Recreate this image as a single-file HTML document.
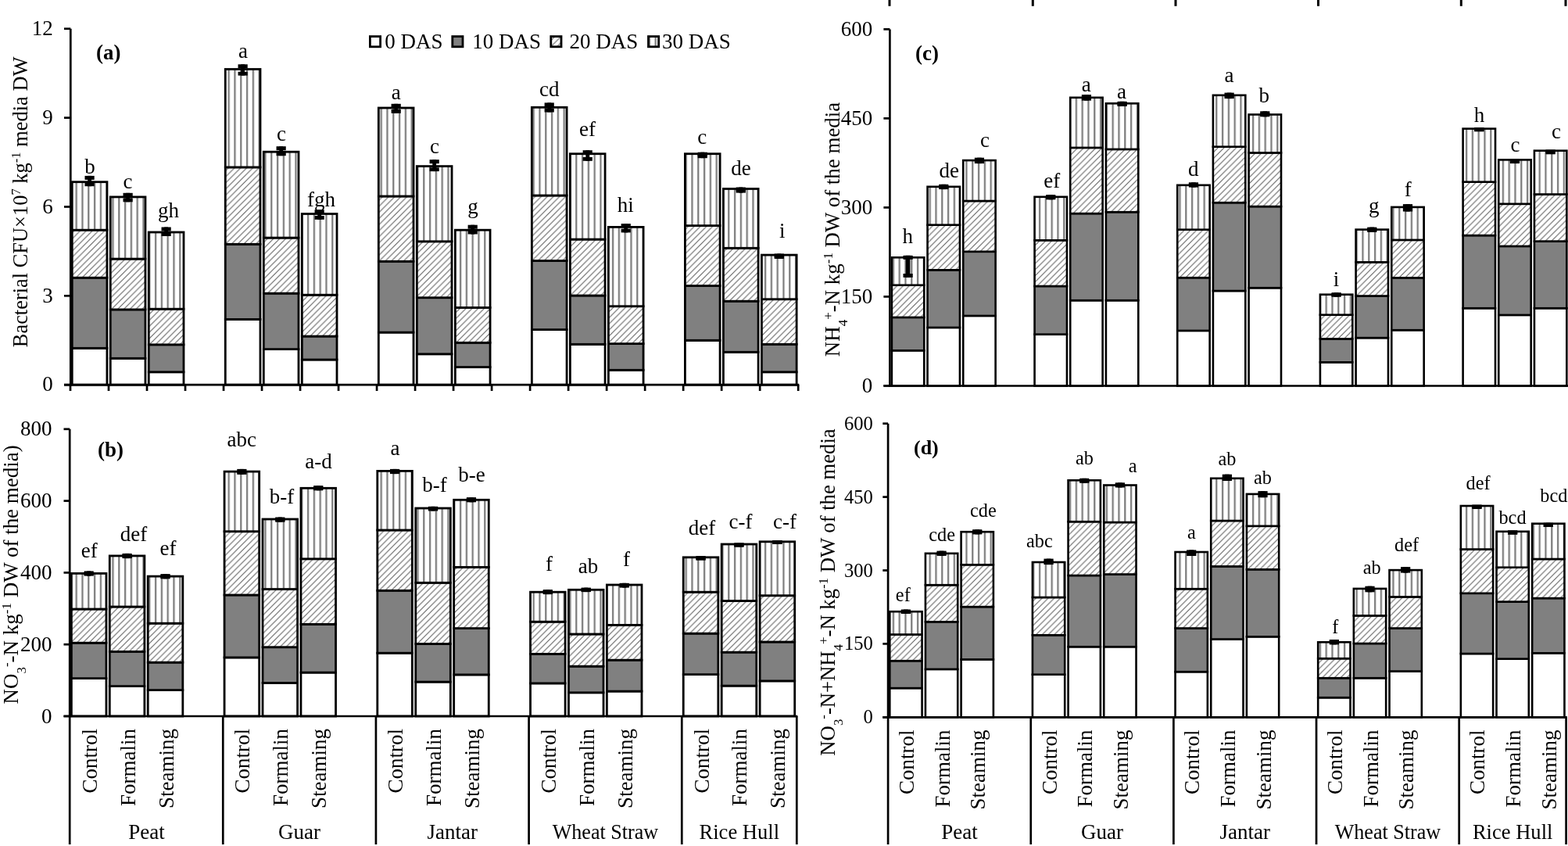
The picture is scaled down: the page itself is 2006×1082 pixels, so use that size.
<!DOCTYPE html>
<html><head><meta charset="utf-8"><title>Figure</title>
<style>html,body{margin:0;padding:0;background:#fff;}svg{display:block;}text{font-family:"Liberation Serif","Times New Roman",serif;fill:#000;}</style>
</head><body>
<svg width="2006" height="1082" viewBox="0 0 2006 1082">
<defs>
<pattern id="vs" patternUnits="userSpaceOnUse" width="7.8" height="8"><rect width="7.8" height="8" fill="#fff"/><rect x="3" y="0" width="2.2" height="8" fill="#7a7a7a"/></pattern>
<pattern id="dh" patternUnits="userSpaceOnUse" width="7.8" height="7.8"><rect width="7.8" height="7.8" fill="#fff"/><path d="M-2,2 L2,-2 M0,7.8 L7.8,0 M5.8,9.8 L9.8,5.8" stroke="#626262" stroke-width="1.1" fill="none"/></pattern>
</defs>
<rect width="2006" height="1082" fill="#fff"/>
<rect x="92.25" y="445.3" width="44.7" height="46.9" fill="#fff" stroke="#000" stroke-width="2.8"/>
<rect x="92.25" y="355.2" width="44.7" height="90.1" fill="#808080" stroke="#000" stroke-width="2.8"/>
<rect x="92.25" y="294.2" width="44.7" height="61" fill="url(#dh)" stroke="#000" stroke-width="2.8"/>
<rect x="92.25" y="232.7" width="44.7" height="61.5" fill="url(#vs)" stroke="#000" stroke-width="2.8"/>
<rect x="141.27" y="458.3" width="44.7" height="33.9" fill="#fff" stroke="#000" stroke-width="2.8"/>
<rect x="141.27" y="395.9" width="44.7" height="62.4" fill="#808080" stroke="#000" stroke-width="2.8"/>
<rect x="141.27" y="331.1" width="44.7" height="64.8" fill="url(#dh)" stroke="#000" stroke-width="2.8"/>
<rect x="141.27" y="251.9" width="44.7" height="79.2" fill="url(#vs)" stroke="#000" stroke-width="2.8"/>
<rect x="190.28" y="475.8" width="44.7" height="16.4" fill="#fff" stroke="#000" stroke-width="2.8"/>
<rect x="190.28" y="440.8" width="44.7" height="35" fill="#808080" stroke="#000" stroke-width="2.8"/>
<rect x="190.28" y="395.2" width="44.7" height="45.6" fill="url(#dh)" stroke="#000" stroke-width="2.8"/>
<rect x="190.28" y="297" width="44.7" height="98.2" fill="url(#vs)" stroke="#000" stroke-width="2.8"/>
<rect x="288.29" y="408.4" width="44.7" height="83.8" fill="#fff" stroke="#000" stroke-width="2.8"/>
<rect x="288.29" y="312.3" width="44.7" height="96.1" fill="#808080" stroke="#000" stroke-width="2.8"/>
<rect x="288.29" y="213.9" width="44.7" height="98.4" fill="url(#dh)" stroke="#000" stroke-width="2.8"/>
<rect x="288.29" y="88.5" width="44.7" height="125.4" fill="url(#vs)" stroke="#000" stroke-width="2.8"/>
<rect x="337.3" y="446.6" width="44.7" height="45.6" fill="#fff" stroke="#000" stroke-width="2.8"/>
<rect x="337.3" y="375.2" width="44.7" height="71.4" fill="#808080" stroke="#000" stroke-width="2.8"/>
<rect x="337.3" y="304.1" width="44.7" height="71.1" fill="url(#dh)" stroke="#000" stroke-width="2.8"/>
<rect x="337.3" y="194.2" width="44.7" height="109.9" fill="url(#vs)" stroke="#000" stroke-width="2.8"/>
<rect x="386.31" y="460" width="44.7" height="32.2" fill="#fff" stroke="#000" stroke-width="2.8"/>
<rect x="386.31" y="430.1" width="44.7" height="29.9" fill="#808080" stroke="#000" stroke-width="2.8"/>
<rect x="386.31" y="377.2" width="44.7" height="52.9" fill="url(#dh)" stroke="#000" stroke-width="2.8"/>
<rect x="386.31" y="273.5" width="44.7" height="103.7" fill="url(#vs)" stroke="#000" stroke-width="2.8"/>
<rect x="484.33" y="425.1" width="44.7" height="67.1" fill="#fff" stroke="#000" stroke-width="2.8"/>
<rect x="484.33" y="334.3" width="44.7" height="90.8" fill="#808080" stroke="#000" stroke-width="2.8"/>
<rect x="484.33" y="251" width="44.7" height="83.3" fill="url(#dh)" stroke="#000" stroke-width="2.8"/>
<rect x="484.33" y="138" width="44.7" height="113" fill="url(#vs)" stroke="#000" stroke-width="2.8"/>
<rect x="533.34" y="452.8" width="44.7" height="39.4" fill="#fff" stroke="#000" stroke-width="2.8"/>
<rect x="533.34" y="380.7" width="44.7" height="72.1" fill="#808080" stroke="#000" stroke-width="2.8"/>
<rect x="533.34" y="308.8" width="44.7" height="71.9" fill="url(#dh)" stroke="#000" stroke-width="2.8"/>
<rect x="533.34" y="212.6" width="44.7" height="96.2" fill="url(#vs)" stroke="#000" stroke-width="2.8"/>
<rect x="582.36" y="469.5" width="44.7" height="22.7" fill="#fff" stroke="#000" stroke-width="2.8"/>
<rect x="582.36" y="438.3" width="44.7" height="31.2" fill="#808080" stroke="#000" stroke-width="2.8"/>
<rect x="582.36" y="393.4" width="44.7" height="44.9" fill="url(#dh)" stroke="#000" stroke-width="2.8"/>
<rect x="582.36" y="294.2" width="44.7" height="99.2" fill="url(#vs)" stroke="#000" stroke-width="2.8"/>
<rect x="680.38" y="421.6" width="44.7" height="70.6" fill="#fff" stroke="#000" stroke-width="2.8"/>
<rect x="680.38" y="333.5" width="44.7" height="88.1" fill="#808080" stroke="#000" stroke-width="2.8"/>
<rect x="680.38" y="250" width="44.7" height="83.5" fill="url(#dh)" stroke="#000" stroke-width="2.8"/>
<rect x="680.38" y="137.3" width="44.7" height="112.7" fill="url(#vs)" stroke="#000" stroke-width="2.8"/>
<rect x="729.38" y="440.3" width="44.7" height="51.9" fill="#fff" stroke="#000" stroke-width="2.8"/>
<rect x="729.38" y="378" width="44.7" height="62.3" fill="#808080" stroke="#000" stroke-width="2.8"/>
<rect x="729.38" y="306.1" width="44.7" height="71.9" fill="url(#dh)" stroke="#000" stroke-width="2.8"/>
<rect x="729.38" y="196.7" width="44.7" height="109.4" fill="url(#vs)" stroke="#000" stroke-width="2.8"/>
<rect x="778.39" y="473.3" width="44.7" height="18.9" fill="#fff" stroke="#000" stroke-width="2.8"/>
<rect x="778.39" y="439.6" width="44.7" height="33.7" fill="#808080" stroke="#000" stroke-width="2.8"/>
<rect x="778.39" y="391.7" width="44.7" height="47.9" fill="url(#dh)" stroke="#000" stroke-width="2.8"/>
<rect x="778.39" y="290.4" width="44.7" height="101.3" fill="url(#vs)" stroke="#000" stroke-width="2.8"/>
<rect x="876.41" y="435.3" width="44.7" height="56.9" fill="#fff" stroke="#000" stroke-width="2.8"/>
<rect x="876.41" y="365.5" width="44.7" height="69.8" fill="#808080" stroke="#000" stroke-width="2.8"/>
<rect x="876.41" y="288.6" width="44.7" height="76.9" fill="url(#dh)" stroke="#000" stroke-width="2.8"/>
<rect x="876.41" y="196.7" width="44.7" height="91.9" fill="url(#vs)" stroke="#000" stroke-width="2.8"/>
<rect x="925.42" y="450.3" width="44.7" height="41.9" fill="#fff" stroke="#000" stroke-width="2.8"/>
<rect x="925.42" y="385.2" width="44.7" height="65.1" fill="#808080" stroke="#000" stroke-width="2.8"/>
<rect x="925.42" y="317.3" width="44.7" height="67.9" fill="url(#dh)" stroke="#000" stroke-width="2.8"/>
<rect x="925.42" y="241.5" width="44.7" height="75.8" fill="url(#vs)" stroke="#000" stroke-width="2.8"/>
<rect x="974.43" y="475.8" width="44.7" height="16.4" fill="#fff" stroke="#000" stroke-width="2.8"/>
<rect x="974.43" y="440.3" width="44.7" height="35.5" fill="#808080" stroke="#000" stroke-width="2.8"/>
<rect x="974.43" y="382.7" width="44.7" height="57.6" fill="url(#dh)" stroke="#000" stroke-width="2.8"/>
<rect x="974.43" y="326.1" width="44.7" height="56.6" fill="url(#vs)" stroke="#000" stroke-width="2.8"/>
<rect x="108.5" y="224.9" width="12.2" height="5" fill="#000"/>
<rect x="108.5" y="233.4" width="12.2" height="4.8" fill="#000"/>
<rect x="112.2" y="224.9" width="4.8" height="13.3" fill="#000"/>
<rect x="157.52" y="246.8" width="12.2" height="5" fill="#000"/>
<rect x="157.52" y="253.5" width="12.2" height="4.8" fill="#000"/>
<rect x="161.22" y="246.8" width="4.8" height="11.5" fill="#000"/>
<rect x="206.53" y="290.5" width="12.2" height="5" fill="#000"/>
<rect x="206.53" y="297.2" width="12.2" height="4.8" fill="#000"/>
<rect x="210.22" y="290.5" width="4.8" height="11.5" fill="#000"/>
<rect x="304.54" y="82.3" width="12.2" height="5" fill="#000"/>
<rect x="304.54" y="91.8" width="12.2" height="4.8" fill="#000"/>
<rect x="308.25" y="82.3" width="4.8" height="14.3" fill="#000"/>
<rect x="353.55" y="187.2" width="12.2" height="5" fill="#000"/>
<rect x="353.55" y="194.4" width="12.2" height="4.8" fill="#000"/>
<rect x="357.25" y="187.2" width="4.8" height="12" fill="#000"/>
<rect x="402.56" y="268.3" width="12.2" height="5" fill="#000"/>
<rect x="402.56" y="276" width="12.2" height="4.8" fill="#000"/>
<rect x="406.26" y="268.3" width="4.8" height="12.5" fill="#000"/>
<rect x="500.58" y="132.8" width="12.2" height="5" fill="#000"/>
<rect x="500.58" y="140" width="12.2" height="4.8" fill="#000"/>
<rect x="504.28" y="132.8" width="4.8" height="12" fill="#000"/>
<rect x="549.59" y="204.2" width="12.2" height="5" fill="#000"/>
<rect x="549.59" y="214.3" width="12.2" height="4.8" fill="#000"/>
<rect x="553.29" y="204.2" width="4.8" height="14.9" fill="#000"/>
<rect x="598.61" y="287.7" width="12.2" height="5" fill="#000"/>
<rect x="598.61" y="294.7" width="12.2" height="4.8" fill="#000"/>
<rect x="602.31" y="287.7" width="4.8" height="11.8" fill="#000"/>
<rect x="696.62" y="131.4" width="12.2" height="5" fill="#000"/>
<rect x="696.62" y="138.7" width="12.2" height="4.8" fill="#000"/>
<rect x="700.33" y="131.4" width="4.8" height="12.1" fill="#000"/>
<rect x="745.63" y="192.2" width="12.2" height="5" fill="#000"/>
<rect x="745.63" y="201" width="12.2" height="4.8" fill="#000"/>
<rect x="749.34" y="192.2" width="4.8" height="13.6" fill="#000"/>
<rect x="794.64" y="286.1" width="12.2" height="5" fill="#000"/>
<rect x="794.64" y="292.6" width="12.2" height="4.8" fill="#000"/>
<rect x="798.35" y="286.1" width="4.8" height="11.3" fill="#000"/>
<rect x="892.66" y="194.7" width="12.2" height="5" fill="#000"/>
<rect x="892.66" y="197.4" width="12.2" height="4.8" fill="#000"/>
<rect x="896.37" y="194.7" width="4.8" height="7.5" fill="#000"/>
<rect x="941.67" y="239.5" width="12.2" height="5" fill="#000"/>
<rect x="941.67" y="241.8" width="12.2" height="4.8" fill="#000"/>
<rect x="945.38" y="239.5" width="4.8" height="7.1" fill="#000"/>
<rect x="990.68" y="324.5" width="12.2" height="5" fill="#000"/>
<rect x="990.68" y="326.2" width="12.2" height="4.8" fill="#000"/>
<rect x="994.38" y="324.5" width="4.8" height="6.5" fill="#000"/>
<text x="115" y="221.5" font-size="27" text-anchor="middle">b</text>
<text x="163.6" y="241.3" font-size="27" text-anchor="middle">c</text>
<text x="215.6" y="277.8" font-size="27" text-anchor="middle">gh</text>
<text x="311" y="74.3" font-size="27" text-anchor="middle">a</text>
<text x="360.1" y="179.5" font-size="27" text-anchor="middle">c</text>
<text x="411" y="263.5" font-size="27" text-anchor="middle">fgh</text>
<text x="506.8" y="127.2" font-size="27" text-anchor="middle">a</text>
<text x="556" y="195.8" font-size="27" text-anchor="middle">c</text>
<text x="605" y="273" font-size="27" text-anchor="middle">g</text>
<text x="702.8" y="122.5" font-size="27" text-anchor="middle">cd</text>
<text x="751.6" y="174.1" font-size="27" text-anchor="middle">ef</text>
<text x="800.2" y="271" font-size="27" text-anchor="middle">hi</text>
<text x="898.2" y="183.5" font-size="27" text-anchor="middle">c</text>
<text x="948" y="224.4" font-size="27" text-anchor="middle">de</text>
<text x="1000.8" y="304.2" font-size="27" text-anchor="middle">i</text>
<rect x="91.37" y="867.6" width="44.6" height="48.4" fill="#fff" stroke="#000" stroke-width="2.8"/>
<rect x="91.37" y="822.2" width="44.6" height="45.4" fill="#808080" stroke="#000" stroke-width="2.8"/>
<rect x="91.37" y="779" width="44.6" height="43.2" fill="url(#dh)" stroke="#000" stroke-width="2.8"/>
<rect x="91.37" y="733.4" width="44.6" height="45.6" fill="url(#vs)" stroke="#000" stroke-width="2.8"/>
<rect x="140.29" y="877.6" width="44.6" height="38.4" fill="#fff" stroke="#000" stroke-width="2.8"/>
<rect x="140.29" y="833.4" width="44.6" height="44.2" fill="#808080" stroke="#000" stroke-width="2.8"/>
<rect x="140.29" y="776" width="44.6" height="57.4" fill="url(#dh)" stroke="#000" stroke-width="2.8"/>
<rect x="140.29" y="710.9" width="44.6" height="65.1" fill="url(#vs)" stroke="#000" stroke-width="2.8"/>
<rect x="189.22" y="882.6" width="44.6" height="33.4" fill="#fff" stroke="#000" stroke-width="2.8"/>
<rect x="189.22" y="847.2" width="44.6" height="35.4" fill="#808080" stroke="#000" stroke-width="2.8"/>
<rect x="189.22" y="797.2" width="44.6" height="50" fill="url(#dh)" stroke="#000" stroke-width="2.8"/>
<rect x="189.22" y="737.1" width="44.6" height="60.1" fill="url(#vs)" stroke="#000" stroke-width="2.8"/>
<rect x="287.08" y="840.9" width="44.6" height="75.1" fill="#fff" stroke="#000" stroke-width="2.8"/>
<rect x="287.08" y="761" width="44.6" height="79.9" fill="#808080" stroke="#000" stroke-width="2.8"/>
<rect x="287.08" y="679.7" width="44.6" height="81.3" fill="url(#dh)" stroke="#000" stroke-width="2.8"/>
<rect x="287.08" y="603.1" width="44.6" height="76.6" fill="url(#vs)" stroke="#000" stroke-width="2.8"/>
<rect x="336.01" y="873.4" width="44.6" height="42.6" fill="#fff" stroke="#000" stroke-width="2.8"/>
<rect x="336.01" y="827.7" width="44.6" height="45.7" fill="#808080" stroke="#000" stroke-width="2.8"/>
<rect x="336.01" y="753.5" width="44.6" height="74.2" fill="url(#dh)" stroke="#000" stroke-width="2.8"/>
<rect x="336.01" y="664" width="44.6" height="89.5" fill="url(#vs)" stroke="#000" stroke-width="2.8"/>
<rect x="384.94" y="860.1" width="44.6" height="55.9" fill="#fff" stroke="#000" stroke-width="2.8"/>
<rect x="384.94" y="798.4" width="44.6" height="61.7" fill="#808080" stroke="#000" stroke-width="2.8"/>
<rect x="384.94" y="714.8" width="44.6" height="83.6" fill="url(#dh)" stroke="#000" stroke-width="2.8"/>
<rect x="384.94" y="624.3" width="44.6" height="90.5" fill="url(#vs)" stroke="#000" stroke-width="2.8"/>
<rect x="482.8" y="835.2" width="44.6" height="80.8" fill="#fff" stroke="#000" stroke-width="2.8"/>
<rect x="482.8" y="755.3" width="44.6" height="79.9" fill="#808080" stroke="#000" stroke-width="2.8"/>
<rect x="482.8" y="678" width="44.6" height="77.3" fill="url(#dh)" stroke="#000" stroke-width="2.8"/>
<rect x="482.8" y="602.4" width="44.6" height="75.6" fill="url(#vs)" stroke="#000" stroke-width="2.8"/>
<rect x="531.74" y="872.1" width="44.6" height="43.9" fill="#fff" stroke="#000" stroke-width="2.8"/>
<rect x="531.74" y="823.5" width="44.6" height="48.6" fill="#808080" stroke="#000" stroke-width="2.8"/>
<rect x="531.74" y="745.3" width="44.6" height="78.2" fill="url(#dh)" stroke="#000" stroke-width="2.8"/>
<rect x="531.74" y="650" width="44.6" height="95.3" fill="url(#vs)" stroke="#000" stroke-width="2.8"/>
<rect x="580.67" y="862.9" width="44.6" height="53.1" fill="#fff" stroke="#000" stroke-width="2.8"/>
<rect x="580.67" y="803.6" width="44.6" height="59.3" fill="#808080" stroke="#000" stroke-width="2.8"/>
<rect x="580.67" y="725.4" width="44.6" height="78.2" fill="url(#dh)" stroke="#000" stroke-width="2.8"/>
<rect x="580.67" y="639.3" width="44.6" height="86.1" fill="url(#vs)" stroke="#000" stroke-width="2.8"/>
<rect x="678.53" y="873.9" width="44.6" height="42.1" fill="#fff" stroke="#000" stroke-width="2.8"/>
<rect x="678.53" y="836.4" width="44.6" height="37.5" fill="#808080" stroke="#000" stroke-width="2.8"/>
<rect x="678.53" y="795.2" width="44.6" height="41.2" fill="url(#dh)" stroke="#000" stroke-width="2.8"/>
<rect x="678.53" y="757.2" width="44.6" height="38" fill="url(#vs)" stroke="#000" stroke-width="2.8"/>
<rect x="727.46" y="885.8" width="44.6" height="30.2" fill="#fff" stroke="#000" stroke-width="2.8"/>
<rect x="727.46" y="852.2" width="44.6" height="33.6" fill="#808080" stroke="#000" stroke-width="2.8"/>
<rect x="727.46" y="811" width="44.6" height="41.2" fill="url(#dh)" stroke="#000" stroke-width="2.8"/>
<rect x="727.46" y="754.3" width="44.6" height="56.7" fill="url(#vs)" stroke="#000" stroke-width="2.8"/>
<rect x="776.39" y="884.1" width="44.6" height="31.9" fill="#fff" stroke="#000" stroke-width="2.8"/>
<rect x="776.39" y="844.2" width="44.6" height="39.9" fill="#808080" stroke="#000" stroke-width="2.8"/>
<rect x="776.39" y="799.4" width="44.6" height="44.8" fill="url(#dh)" stroke="#000" stroke-width="2.8"/>
<rect x="776.39" y="748" width="44.6" height="51.4" fill="url(#vs)" stroke="#000" stroke-width="2.8"/>
<rect x="874.25" y="862.6" width="44.6" height="53.4" fill="#fff" stroke="#000" stroke-width="2.8"/>
<rect x="874.25" y="810.2" width="44.6" height="52.4" fill="#808080" stroke="#000" stroke-width="2.8"/>
<rect x="874.25" y="757.2" width="44.6" height="53" fill="url(#dh)" stroke="#000" stroke-width="2.8"/>
<rect x="874.25" y="712.8" width="44.6" height="44.4" fill="url(#vs)" stroke="#000" stroke-width="2.8"/>
<rect x="923.18" y="877.1" width="44.6" height="38.9" fill="#fff" stroke="#000" stroke-width="2.8"/>
<rect x="923.18" y="834.2" width="44.6" height="42.9" fill="#808080" stroke="#000" stroke-width="2.8"/>
<rect x="923.18" y="768.5" width="44.6" height="65.7" fill="url(#dh)" stroke="#000" stroke-width="2.8"/>
<rect x="923.18" y="696" width="44.6" height="72.5" fill="url(#vs)" stroke="#000" stroke-width="2.8"/>
<rect x="972.11" y="870.9" width="44.6" height="45.1" fill="#fff" stroke="#000" stroke-width="2.8"/>
<rect x="972.11" y="821" width="44.6" height="49.9" fill="#808080" stroke="#000" stroke-width="2.8"/>
<rect x="972.11" y="761.7" width="44.6" height="59.3" fill="url(#dh)" stroke="#000" stroke-width="2.8"/>
<rect x="972.11" y="692.8" width="44.6" height="68.9" fill="url(#vs)" stroke="#000" stroke-width="2.8"/>
<rect x="107.57" y="730.4" width="12.2" height="5" fill="#000"/>
<rect x="107.57" y="731.8" width="12.2" height="4.8" fill="#000"/>
<rect x="111.27" y="730.4" width="4.8" height="6.2" fill="#000"/>
<rect x="156.5" y="707.9" width="12.2" height="5" fill="#000"/>
<rect x="156.5" y="709.3" width="12.2" height="4.8" fill="#000"/>
<rect x="160.19" y="707.9" width="4.8" height="6.2" fill="#000"/>
<rect x="205.43" y="734.1" width="12.2" height="5" fill="#000"/>
<rect x="205.43" y="735.5" width="12.2" height="4.8" fill="#000"/>
<rect x="209.12" y="734.1" width="4.8" height="6.2" fill="#000"/>
<rect x="303.28" y="599.9" width="12.2" height="5" fill="#000"/>
<rect x="303.28" y="602.1" width="12.2" height="4.8" fill="#000"/>
<rect x="306.99" y="599.9" width="4.8" height="7" fill="#000"/>
<rect x="352.21" y="661.5" width="12.2" height="5" fill="#000"/>
<rect x="352.21" y="662.9" width="12.2" height="4.8" fill="#000"/>
<rect x="355.92" y="661.5" width="4.8" height="6.2" fill="#000"/>
<rect x="401.14" y="621.1" width="12.2" height="5" fill="#000"/>
<rect x="401.14" y="622.5" width="12.2" height="4.8" fill="#000"/>
<rect x="404.85" y="621.1" width="4.8" height="6.2" fill="#000"/>
<rect x="499" y="599.9" width="12.2" height="5" fill="#000"/>
<rect x="499" y="601.3" width="12.2" height="4.8" fill="#000"/>
<rect x="502.7" y="599.9" width="4.8" height="6.2" fill="#000"/>
<rect x="547.93" y="647.8" width="12.2" height="5" fill="#000"/>
<rect x="547.93" y="648.7" width="12.2" height="4.8" fill="#000"/>
<rect x="551.63" y="647.8" width="4.8" height="5.7" fill="#000"/>
<rect x="596.87" y="636.1" width="12.2" height="5" fill="#000"/>
<rect x="596.87" y="637.5" width="12.2" height="4.8" fill="#000"/>
<rect x="600.57" y="636.1" width="4.8" height="6.2" fill="#000"/>
<rect x="694.73" y="754.1" width="12.2" height="5" fill="#000"/>
<rect x="694.73" y="755.3" width="12.2" height="4.8" fill="#000"/>
<rect x="698.43" y="754.1" width="4.8" height="6" fill="#000"/>
<rect x="743.65" y="751.6" width="12.2" height="5" fill="#000"/>
<rect x="743.65" y="752.3" width="12.2" height="4.8" fill="#000"/>
<rect x="747.36" y="751.6" width="4.8" height="5.5" fill="#000"/>
<rect x="792.59" y="745.8" width="12.2" height="5" fill="#000"/>
<rect x="792.59" y="746.8" width="12.2" height="4.8" fill="#000"/>
<rect x="796.29" y="745.8" width="4.8" height="5.8" fill="#000"/>
<rect x="890.45" y="711.7" width="12.2" height="5" fill="#000"/>
<rect x="890.45" y="711.1" width="12.2" height="4.8" fill="#000"/>
<rect x="894.15" y="711.7" width="4.8" height="4.2" fill="#000"/>
<rect x="939.38" y="694.7" width="12.2" height="5" fill="#000"/>
<rect x="939.38" y="694.4" width="12.2" height="4.8" fill="#000"/>
<rect x="943.08" y="694.7" width="4.8" height="4.5" fill="#000"/>
<rect x="988.31" y="691" width="12.2" height="5" fill="#000"/>
<rect x="988.31" y="691.1" width="12.2" height="4.8" fill="#000"/>
<rect x="992.01" y="691" width="4.8" height="4.9" fill="#000"/>
<text x="114.3" y="712.9" font-size="27" text-anchor="middle">ef</text>
<text x="171" y="692.2" font-size="27" text-anchor="middle">def</text>
<text x="215" y="710.4" font-size="27" text-anchor="middle">ef</text>
<text x="309.3" y="570.7" font-size="27" text-anchor="middle">abc</text>
<text x="360.5" y="643.5" font-size="27" text-anchor="middle">b-f</text>
<text x="407.5" y="598.6" font-size="27" text-anchor="middle">a-d</text>
<text x="505.6" y="582.4" font-size="27" text-anchor="middle">a</text>
<text x="556" y="629.3" font-size="27" text-anchor="middle">b-f</text>
<text x="603.4" y="616.1" font-size="27" text-anchor="middle">b-e</text>
<text x="702.4" y="730.1" font-size="27" text-anchor="middle">f</text>
<text x="752.4" y="732.6" font-size="27" text-anchor="middle">ab</text>
<text x="801.4" y="724.1" font-size="27" text-anchor="middle">f</text>
<text x="898" y="683.5" font-size="27" text-anchor="middle">def</text>
<text x="947.4" y="676" font-size="27" text-anchor="middle">c-f</text>
<text x="1004.1" y="676" font-size="27" text-anchor="middle">c-f</text>
<rect x="1140.88" y="448.3" width="41.4" height="45.2" fill="#fff" stroke="#000" stroke-width="2.6"/>
<rect x="1140.88" y="405.9" width="41.4" height="42.4" fill="#808080" stroke="#000" stroke-width="2.6"/>
<rect x="1140.88" y="364.7" width="41.4" height="41.2" fill="url(#dh)" stroke="#000" stroke-width="2.6"/>
<rect x="1140.88" y="329.3" width="41.4" height="35.4" fill="url(#vs)" stroke="#000" stroke-width="2.6"/>
<rect x="1186.56" y="418.9" width="41.4" height="74.6" fill="#fff" stroke="#000" stroke-width="2.6"/>
<rect x="1186.56" y="345.3" width="41.4" height="73.6" fill="#808080" stroke="#000" stroke-width="2.6"/>
<rect x="1186.56" y="287.7" width="41.4" height="57.6" fill="url(#dh)" stroke="#000" stroke-width="2.6"/>
<rect x="1186.56" y="238.8" width="41.4" height="48.9" fill="url(#vs)" stroke="#000" stroke-width="2.6"/>
<rect x="1232.22" y="403.9" width="41.4" height="89.6" fill="#fff" stroke="#000" stroke-width="2.6"/>
<rect x="1232.22" y="321.8" width="41.4" height="82.1" fill="#808080" stroke="#000" stroke-width="2.6"/>
<rect x="1232.22" y="257" width="41.4" height="64.8" fill="url(#dh)" stroke="#000" stroke-width="2.6"/>
<rect x="1232.22" y="205.1" width="41.4" height="51.9" fill="url(#vs)" stroke="#000" stroke-width="2.6"/>
<rect x="1323.57" y="427.6" width="41.4" height="65.9" fill="#fff" stroke="#000" stroke-width="2.6"/>
<rect x="1323.57" y="366" width="41.4" height="61.6" fill="#808080" stroke="#000" stroke-width="2.6"/>
<rect x="1323.57" y="307.3" width="41.4" height="58.7" fill="url(#dh)" stroke="#000" stroke-width="2.6"/>
<rect x="1323.57" y="251.8" width="41.4" height="55.5" fill="url(#vs)" stroke="#000" stroke-width="2.6"/>
<rect x="1369.23" y="384.2" width="41.4" height="109.3" fill="#fff" stroke="#000" stroke-width="2.6"/>
<rect x="1369.23" y="273.1" width="41.4" height="111.1" fill="#808080" stroke="#000" stroke-width="2.6"/>
<rect x="1369.23" y="188.9" width="41.4" height="84.2" fill="url(#dh)" stroke="#000" stroke-width="2.6"/>
<rect x="1369.23" y="124.8" width="41.4" height="64.1" fill="url(#vs)" stroke="#000" stroke-width="2.6"/>
<rect x="1414.9" y="384.2" width="41.4" height="109.3" fill="#fff" stroke="#000" stroke-width="2.6"/>
<rect x="1414.9" y="271.2" width="41.4" height="113" fill="#808080" stroke="#000" stroke-width="2.6"/>
<rect x="1414.9" y="190.9" width="41.4" height="80.3" fill="url(#dh)" stroke="#000" stroke-width="2.6"/>
<rect x="1414.9" y="132.3" width="41.4" height="58.6" fill="url(#vs)" stroke="#000" stroke-width="2.6"/>
<rect x="1506.24" y="422.9" width="41.4" height="70.6" fill="#fff" stroke="#000" stroke-width="2.6"/>
<rect x="1506.24" y="355.2" width="41.4" height="67.7" fill="#808080" stroke="#000" stroke-width="2.6"/>
<rect x="1506.24" y="293.7" width="41.4" height="61.5" fill="url(#dh)" stroke="#000" stroke-width="2.6"/>
<rect x="1506.24" y="236.8" width="41.4" height="56.9" fill="url(#vs)" stroke="#000" stroke-width="2.6"/>
<rect x="1551.91" y="372" width="41.4" height="121.5" fill="#fff" stroke="#000" stroke-width="2.6"/>
<rect x="1551.91" y="259.2" width="41.4" height="112.8" fill="#808080" stroke="#000" stroke-width="2.6"/>
<rect x="1551.91" y="187.7" width="41.4" height="71.5" fill="url(#dh)" stroke="#000" stroke-width="2.6"/>
<rect x="1551.91" y="121.8" width="41.4" height="65.9" fill="url(#vs)" stroke="#000" stroke-width="2.6"/>
<rect x="1597.59" y="368.2" width="41.4" height="125.3" fill="#fff" stroke="#000" stroke-width="2.6"/>
<rect x="1597.59" y="264.1" width="41.4" height="104.1" fill="#808080" stroke="#000" stroke-width="2.6"/>
<rect x="1597.59" y="195.4" width="41.4" height="68.7" fill="url(#dh)" stroke="#000" stroke-width="2.6"/>
<rect x="1597.59" y="146.5" width="41.4" height="48.9" fill="url(#vs)" stroke="#000" stroke-width="2.6"/>
<rect x="1688.92" y="463.3" width="41.4" height="30.2" fill="#fff" stroke="#000" stroke-width="2.6"/>
<rect x="1688.92" y="433.4" width="41.4" height="29.9" fill="#808080" stroke="#000" stroke-width="2.6"/>
<rect x="1688.92" y="402.7" width="41.4" height="30.7" fill="url(#dh)" stroke="#000" stroke-width="2.6"/>
<rect x="1688.92" y="376.7" width="41.4" height="26" fill="url(#vs)" stroke="#000" stroke-width="2.6"/>
<rect x="1734.6" y="432.1" width="41.4" height="61.4" fill="#fff" stroke="#000" stroke-width="2.6"/>
<rect x="1734.6" y="378.5" width="41.4" height="53.6" fill="#808080" stroke="#000" stroke-width="2.6"/>
<rect x="1734.6" y="335.3" width="41.4" height="43.2" fill="url(#dh)" stroke="#000" stroke-width="2.6"/>
<rect x="1734.6" y="293.6" width="41.4" height="41.7" fill="url(#vs)" stroke="#000" stroke-width="2.6"/>
<rect x="1780.27" y="422.2" width="41.4" height="71.3" fill="#fff" stroke="#000" stroke-width="2.6"/>
<rect x="1780.27" y="355.3" width="41.4" height="66.9" fill="#808080" stroke="#000" stroke-width="2.6"/>
<rect x="1780.27" y="306.9" width="41.4" height="48.4" fill="url(#dh)" stroke="#000" stroke-width="2.6"/>
<rect x="1780.27" y="264.9" width="41.4" height="42" fill="url(#vs)" stroke="#000" stroke-width="2.6"/>
<rect x="1871.61" y="394.2" width="41.4" height="99.3" fill="#fff" stroke="#000" stroke-width="2.6"/>
<rect x="1871.61" y="301.1" width="41.4" height="93.1" fill="#808080" stroke="#000" stroke-width="2.6"/>
<rect x="1871.61" y="232.7" width="41.4" height="68.4" fill="url(#dh)" stroke="#000" stroke-width="2.6"/>
<rect x="1871.61" y="164.6" width="41.4" height="68.1" fill="url(#vs)" stroke="#000" stroke-width="2.6"/>
<rect x="1917.27" y="402.9" width="41.4" height="90.6" fill="#fff" stroke="#000" stroke-width="2.6"/>
<rect x="1917.27" y="314.9" width="41.4" height="88" fill="#808080" stroke="#000" stroke-width="2.6"/>
<rect x="1917.27" y="260.8" width="41.4" height="54.1" fill="url(#dh)" stroke="#000" stroke-width="2.6"/>
<rect x="1917.27" y="204.4" width="41.4" height="56.4" fill="url(#vs)" stroke="#000" stroke-width="2.6"/>
<rect x="1962.94" y="394.2" width="41.4" height="99.3" fill="#fff" stroke="#000" stroke-width="2.6"/>
<rect x="1962.94" y="308.6" width="41.4" height="85.6" fill="#808080" stroke="#000" stroke-width="2.6"/>
<rect x="1962.94" y="248.5" width="41.4" height="60.1" fill="url(#dh)" stroke="#000" stroke-width="2.6"/>
<rect x="1962.94" y="192.7" width="41.4" height="55.8" fill="url(#vs)" stroke="#000" stroke-width="2.6"/>
<rect x="1155.49" y="326.8" width="12.2" height="5" fill="#000"/>
<rect x="1155.49" y="350" width="12.2" height="4.8" fill="#000"/>
<rect x="1158.79" y="326.8" width="5.6" height="28" fill="#000"/>
<rect x="1201.16" y="235.8" width="12.2" height="5" fill="#000"/>
<rect x="1201.16" y="237.3" width="12.2" height="4.8" fill="#000"/>
<rect x="1204.46" y="235.8" width="5.6" height="6.3" fill="#000"/>
<rect x="1246.83" y="201.7" width="12.2" height="5" fill="#000"/>
<rect x="1246.83" y="204.3" width="12.2" height="4.8" fill="#000"/>
<rect x="1250.12" y="201.7" width="5.6" height="7.4" fill="#000"/>
<rect x="1338.17" y="249.1" width="12.2" height="5" fill="#000"/>
<rect x="1338.17" y="250.5" width="12.2" height="4.8" fill="#000"/>
<rect x="1341.47" y="249.1" width="5.6" height="6.2" fill="#000"/>
<rect x="1383.84" y="121.1" width="12.2" height="5" fill="#000"/>
<rect x="1383.84" y="123.8" width="12.2" height="4.8" fill="#000"/>
<rect x="1387.13" y="121.1" width="5.6" height="7.5" fill="#000"/>
<rect x="1429.51" y="129.8" width="12.2" height="5" fill="#000"/>
<rect x="1429.51" y="131.2" width="12.2" height="4.8" fill="#000"/>
<rect x="1432.81" y="129.8" width="5.6" height="6.2" fill="#000"/>
<rect x="1520.85" y="233.3" width="12.2" height="5" fill="#000"/>
<rect x="1520.85" y="234.8" width="12.2" height="4.8" fill="#000"/>
<rect x="1524.14" y="233.3" width="5.6" height="6.3" fill="#000"/>
<rect x="1566.52" y="118.6" width="12.2" height="5" fill="#000"/>
<rect x="1566.52" y="121.3" width="12.2" height="4.8" fill="#000"/>
<rect x="1569.82" y="118.6" width="5.6" height="7.5" fill="#000"/>
<rect x="1612.19" y="142.3" width="12.2" height="5" fill="#000"/>
<rect x="1612.19" y="144.5" width="12.2" height="4.8" fill="#000"/>
<rect x="1615.49" y="142.3" width="5.6" height="7" fill="#000"/>
<rect x="1703.53" y="374.2" width="12.2" height="5" fill="#000"/>
<rect x="1703.53" y="374.9" width="12.2" height="4.8" fill="#000"/>
<rect x="1706.83" y="374.2" width="5.6" height="5.5" fill="#000"/>
<rect x="1749.2" y="290.6" width="12.2" height="5" fill="#000"/>
<rect x="1749.2" y="292.1" width="12.2" height="4.8" fill="#000"/>
<rect x="1752.5" y="290.6" width="5.6" height="6.3" fill="#000"/>
<rect x="1794.87" y="261.1" width="12.2" height="5" fill="#000"/>
<rect x="1794.87" y="265.7" width="12.2" height="4.8" fill="#000"/>
<rect x="1798.17" y="261.1" width="5.6" height="9.4" fill="#000"/>
<rect x="1886.21" y="163.3" width="12.2" height="5" fill="#000"/>
<rect x="1886.21" y="163" width="12.2" height="4.8" fill="#000"/>
<rect x="1889.51" y="163.3" width="5.6" height="4.5" fill="#000"/>
<rect x="1931.88" y="204.1" width="12.2" height="5" fill="#000"/>
<rect x="1931.88" y="203.4" width="12.2" height="4.8" fill="#000"/>
<rect x="1935.17" y="204.1" width="5.6" height="4.1" fill="#000"/>
<rect x="1977.55" y="192.3" width="12.2" height="5" fill="#000"/>
<rect x="1977.55" y="191.5" width="12.2" height="4.8" fill="#000"/>
<rect x="1980.85" y="192.3" width="5.6" height="4" fill="#000"/>
<text x="1161.2" y="311.1" font-size="27" text-anchor="middle">h</text>
<text x="1214.2" y="227.1" font-size="27" text-anchor="middle">de</text>
<text x="1260" y="188.4" font-size="27" text-anchor="middle">c</text>
<text x="1345.8" y="239.6" font-size="27" text-anchor="middle">ef</text>
<text x="1389.8" y="117.3" font-size="27" text-anchor="middle">a</text>
<text x="1435" y="126.1" font-size="27" text-anchor="middle">a</text>
<text x="1526.8" y="224.6" font-size="27" text-anchor="middle">d</text>
<text x="1572.4" y="104.9" font-size="27" text-anchor="middle">a</text>
<text x="1617.2" y="131" font-size="27" text-anchor="middle">b</text>
<text x="1709.5" y="366" font-size="27" text-anchor="middle">i</text>
<text x="1757.8" y="272" font-size="27" text-anchor="middle">g</text>
<text x="1801.2" y="251.2" font-size="27" text-anchor="middle">f</text>
<text x="1892.4" y="156.3" font-size="27" text-anchor="middle">h</text>
<text x="1938.5" y="194.4" font-size="27" text-anchor="middle">c</text>
<text x="1991" y="177.2" font-size="27" text-anchor="middle">c</text>
<rect x="1138.28" y="880.1" width="41.3" height="37.2" fill="#fff" stroke="#000" stroke-width="2.6"/>
<rect x="1138.28" y="845.2" width="41.3" height="34.9" fill="#808080" stroke="#000" stroke-width="2.6"/>
<rect x="1138.28" y="811.5" width="41.3" height="33.7" fill="url(#dh)" stroke="#000" stroke-width="2.6"/>
<rect x="1138.28" y="782.2" width="41.3" height="29.3" fill="url(#vs)" stroke="#000" stroke-width="2.6"/>
<rect x="1183.94" y="855.9" width="41.3" height="61.4" fill="#fff" stroke="#000" stroke-width="2.6"/>
<rect x="1183.94" y="795.3" width="41.3" height="60.6" fill="#808080" stroke="#000" stroke-width="2.6"/>
<rect x="1183.94" y="748.2" width="41.3" height="47.1" fill="url(#dh)" stroke="#000" stroke-width="2.6"/>
<rect x="1183.94" y="707.8" width="41.3" height="40.4" fill="url(#vs)" stroke="#000" stroke-width="2.6"/>
<rect x="1229.6" y="843.4" width="41.3" height="73.9" fill="#fff" stroke="#000" stroke-width="2.6"/>
<rect x="1229.6" y="776.1" width="41.3" height="67.3" fill="#808080" stroke="#000" stroke-width="2.6"/>
<rect x="1229.6" y="722.3" width="41.3" height="53.8" fill="url(#dh)" stroke="#000" stroke-width="2.6"/>
<rect x="1229.6" y="680.2" width="41.3" height="42.1" fill="url(#vs)" stroke="#000" stroke-width="2.6"/>
<rect x="1320.92" y="862.7" width="41.3" height="54.6" fill="#fff" stroke="#000" stroke-width="2.6"/>
<rect x="1320.92" y="812.3" width="41.3" height="50.4" fill="#808080" stroke="#000" stroke-width="2.6"/>
<rect x="1320.92" y="764" width="41.3" height="48.3" fill="url(#dh)" stroke="#000" stroke-width="2.6"/>
<rect x="1320.92" y="719" width="41.3" height="45" fill="url(#vs)" stroke="#000" stroke-width="2.6"/>
<rect x="1366.58" y="827.2" width="41.3" height="90.1" fill="#fff" stroke="#000" stroke-width="2.6"/>
<rect x="1366.58" y="736" width="41.3" height="91.2" fill="#808080" stroke="#000" stroke-width="2.6"/>
<rect x="1366.58" y="667.2" width="41.3" height="68.8" fill="url(#dh)" stroke="#000" stroke-width="2.6"/>
<rect x="1366.58" y="614.3" width="41.3" height="52.9" fill="url(#vs)" stroke="#000" stroke-width="2.6"/>
<rect x="1412.24" y="827.2" width="41.3" height="90.1" fill="#fff" stroke="#000" stroke-width="2.6"/>
<rect x="1412.24" y="734.5" width="41.3" height="92.7" fill="#808080" stroke="#000" stroke-width="2.6"/>
<rect x="1412.24" y="668" width="41.3" height="66.5" fill="url(#dh)" stroke="#000" stroke-width="2.6"/>
<rect x="1412.24" y="620.5" width="41.3" height="47.5" fill="url(#vs)" stroke="#000" stroke-width="2.6"/>
<rect x="1503.56" y="859.2" width="41.3" height="58.1" fill="#fff" stroke="#000" stroke-width="2.6"/>
<rect x="1503.56" y="803.5" width="41.3" height="55.7" fill="#808080" stroke="#000" stroke-width="2.6"/>
<rect x="1503.56" y="753.2" width="41.3" height="50.3" fill="url(#dh)" stroke="#000" stroke-width="2.6"/>
<rect x="1503.56" y="706" width="41.3" height="47.2" fill="url(#vs)" stroke="#000" stroke-width="2.6"/>
<rect x="1549.22" y="817.5" width="41.3" height="99.8" fill="#fff" stroke="#000" stroke-width="2.6"/>
<rect x="1549.22" y="724.4" width="41.3" height="93.1" fill="#808080" stroke="#000" stroke-width="2.6"/>
<rect x="1549.22" y="666" width="41.3" height="58.4" fill="url(#dh)" stroke="#000" stroke-width="2.6"/>
<rect x="1549.22" y="611.8" width="41.3" height="54.2" fill="url(#vs)" stroke="#000" stroke-width="2.6"/>
<rect x="1594.88" y="814.3" width="41.3" height="103" fill="#fff" stroke="#000" stroke-width="2.6"/>
<rect x="1594.88" y="728.3" width="41.3" height="86" fill="#808080" stroke="#000" stroke-width="2.6"/>
<rect x="1594.88" y="672.8" width="41.3" height="55.5" fill="url(#dh)" stroke="#000" stroke-width="2.6"/>
<rect x="1594.88" y="631.9" width="41.3" height="40.9" fill="url(#vs)" stroke="#000" stroke-width="2.6"/>
<rect x="1686.2" y="892.2" width="41.3" height="25.1" fill="#fff" stroke="#000" stroke-width="2.6"/>
<rect x="1686.2" y="867.2" width="41.3" height="25" fill="#808080" stroke="#000" stroke-width="2.6"/>
<rect x="1686.2" y="842.2" width="41.3" height="25" fill="url(#dh)" stroke="#000" stroke-width="2.6"/>
<rect x="1686.2" y="821.3" width="41.3" height="20.9" fill="url(#vs)" stroke="#000" stroke-width="2.6"/>
<rect x="1731.86" y="867.2" width="41.3" height="50.1" fill="#fff" stroke="#000" stroke-width="2.6"/>
<rect x="1731.86" y="823" width="41.3" height="44.2" fill="#808080" stroke="#000" stroke-width="2.6"/>
<rect x="1731.86" y="787.4" width="41.3" height="35.6" fill="url(#dh)" stroke="#000" stroke-width="2.6"/>
<rect x="1731.86" y="752.9" width="41.3" height="34.5" fill="url(#vs)" stroke="#000" stroke-width="2.6"/>
<rect x="1777.52" y="858.5" width="41.3" height="58.8" fill="#fff" stroke="#000" stroke-width="2.6"/>
<rect x="1777.52" y="803.5" width="41.3" height="55" fill="#808080" stroke="#000" stroke-width="2.6"/>
<rect x="1777.52" y="763.4" width="41.3" height="40.1" fill="url(#dh)" stroke="#000" stroke-width="2.6"/>
<rect x="1777.52" y="729.1" width="41.3" height="34.3" fill="url(#vs)" stroke="#000" stroke-width="2.6"/>
<rect x="1868.84" y="836" width="41.3" height="81.3" fill="#fff" stroke="#000" stroke-width="2.6"/>
<rect x="1868.84" y="758.8" width="41.3" height="77.2" fill="#808080" stroke="#000" stroke-width="2.6"/>
<rect x="1868.84" y="702.5" width="41.3" height="56.3" fill="url(#dh)" stroke="#000" stroke-width="2.6"/>
<rect x="1868.84" y="647" width="41.3" height="55.5" fill="url(#vs)" stroke="#000" stroke-width="2.6"/>
<rect x="1914.5" y="842.7" width="41.3" height="74.6" fill="#fff" stroke="#000" stroke-width="2.6"/>
<rect x="1914.5" y="769.6" width="41.3" height="73.1" fill="#808080" stroke="#000" stroke-width="2.6"/>
<rect x="1914.5" y="725.7" width="41.3" height="43.9" fill="url(#dh)" stroke="#000" stroke-width="2.6"/>
<rect x="1914.5" y="679.8" width="41.3" height="45.9" fill="url(#vs)" stroke="#000" stroke-width="2.6"/>
<rect x="1960.16" y="835.3" width="41.3" height="82" fill="#fff" stroke="#000" stroke-width="2.6"/>
<rect x="1960.16" y="765.1" width="41.3" height="70.2" fill="#808080" stroke="#000" stroke-width="2.6"/>
<rect x="1960.16" y="715" width="41.3" height="50.1" fill="url(#dh)" stroke="#000" stroke-width="2.6"/>
<rect x="1960.16" y="669.7" width="41.3" height="45.3" fill="url(#vs)" stroke="#000" stroke-width="2.6"/>
<rect x="1152.83" y="779.5" width="12.2" height="5" fill="#000"/>
<rect x="1152.83" y="780.2" width="12.2" height="4.8" fill="#000"/>
<rect x="1156.13" y="779.5" width="5.6" height="5.5" fill="#000"/>
<rect x="1198.49" y="704.6" width="12.2" height="5" fill="#000"/>
<rect x="1198.49" y="706.1" width="12.2" height="4.8" fill="#000"/>
<rect x="1201.79" y="704.6" width="5.6" height="6.3" fill="#000"/>
<rect x="1244.15" y="677.2" width="12.2" height="5" fill="#000"/>
<rect x="1244.15" y="678.6" width="12.2" height="4.8" fill="#000"/>
<rect x="1247.45" y="677.2" width="5.6" height="6.2" fill="#000"/>
<rect x="1335.47" y="714.6" width="12.2" height="5" fill="#000"/>
<rect x="1335.47" y="717.3" width="12.2" height="4.8" fill="#000"/>
<rect x="1338.77" y="714.6" width="5.6" height="7.5" fill="#000"/>
<rect x="1381.13" y="611.8" width="12.2" height="5" fill="#000"/>
<rect x="1381.13" y="613" width="12.2" height="4.8" fill="#000"/>
<rect x="1384.43" y="611.8" width="5.6" height="6" fill="#000"/>
<rect x="1426.79" y="617.3" width="12.2" height="5" fill="#000"/>
<rect x="1426.79" y="618.7" width="12.2" height="4.8" fill="#000"/>
<rect x="1430.09" y="617.3" width="5.6" height="6.2" fill="#000"/>
<rect x="1518.11" y="703.4" width="12.2" height="5" fill="#000"/>
<rect x="1518.11" y="706.2" width="12.2" height="4.8" fill="#000"/>
<rect x="1521.41" y="703.4" width="5.6" height="7.6" fill="#000"/>
<rect x="1563.77" y="606.7" width="12.2" height="5" fill="#000"/>
<rect x="1563.77" y="610.2" width="12.2" height="4.8" fill="#000"/>
<rect x="1567.07" y="606.7" width="5.6" height="8.3" fill="#000"/>
<rect x="1609.43" y="628.1" width="12.2" height="5" fill="#000"/>
<rect x="1609.43" y="631.4" width="12.2" height="4.8" fill="#000"/>
<rect x="1612.73" y="628.1" width="5.6" height="8.1" fill="#000"/>
<rect x="1700.75" y="818" width="12.2" height="5" fill="#000"/>
<rect x="1700.75" y="819.6" width="12.2" height="4.8" fill="#000"/>
<rect x="1704.05" y="818" width="5.6" height="6.4" fill="#000"/>
<rect x="1746.41" y="749.7" width="12.2" height="5" fill="#000"/>
<rect x="1746.41" y="752.5" width="12.2" height="4.8" fill="#000"/>
<rect x="1749.71" y="749.7" width="5.6" height="7.6" fill="#000"/>
<rect x="1792.07" y="725.1" width="12.2" height="5" fill="#000"/>
<rect x="1792.07" y="727.8" width="12.2" height="4.8" fill="#000"/>
<rect x="1795.37" y="725.1" width="5.6" height="7.5" fill="#000"/>
<rect x="1883.39" y="646" width="12.2" height="5" fill="#000"/>
<rect x="1883.39" y="645.5" width="12.2" height="4.8" fill="#000"/>
<rect x="1886.69" y="646" width="5.6" height="4.3" fill="#000"/>
<rect x="1929.05" y="678.8" width="12.2" height="5" fill="#000"/>
<rect x="1929.05" y="678.3" width="12.2" height="4.8" fill="#000"/>
<rect x="1932.35" y="678.8" width="5.6" height="4.3" fill="#000"/>
<rect x="1974.71" y="668.7" width="12.2" height="5" fill="#000"/>
<rect x="1974.71" y="669.2" width="12.2" height="4.8" fill="#000"/>
<rect x="1978.01" y="668.7" width="5.6" height="5.3" fill="#000"/>
<text x="1155.3" y="769" font-size="24.3" text-anchor="middle">ef</text>
<text x="1205.2" y="692.2" font-size="24.3" text-anchor="middle">cde</text>
<text x="1257.9" y="661" font-size="24.3" text-anchor="middle">cde</text>
<text x="1329.9" y="699.6" font-size="24.3" text-anchor="middle">abc</text>
<text x="1387.5" y="594.4" font-size="24.3" text-anchor="middle">ab</text>
<text x="1449.2" y="603.6" font-size="24.3" text-anchor="middle">a</text>
<text x="1524.3" y="688.9" font-size="24.3" text-anchor="middle">a</text>
<text x="1570" y="595.3" font-size="24.3" text-anchor="middle">ab</text>
<text x="1615.4" y="618.5" font-size="24.3" text-anchor="middle">ab</text>
<text x="1708.2" y="809.7" font-size="24.3" text-anchor="middle">f</text>
<text x="1755.2" y="733.6" font-size="24.3" text-anchor="middle">ab</text>
<text x="1799.6" y="705.1" font-size="24.3" text-anchor="middle">def</text>
<text x="1891" y="625.6" font-size="24.3" text-anchor="middle">def</text>
<text x="1935" y="669.7" font-size="24.3" text-anchor="middle">bcd</text>
<text x="1987.9" y="642" font-size="24.3" text-anchor="middle">bcd</text>
<line x1="90.3" y1="36.75" x2="90.3" y2="493.5" stroke="#000" stroke-width="2.7"/>
<line x1="82" y1="36.75" x2="90.3" y2="36.75" stroke="#000" stroke-width="2.7"/>
<line x1="82" y1="150.61" x2="90.3" y2="150.61" stroke="#000" stroke-width="2.7"/>
<line x1="82" y1="264.47" x2="90.3" y2="264.47" stroke="#000" stroke-width="2.7"/>
<line x1="82" y1="378.33" x2="90.3" y2="378.33" stroke="#000" stroke-width="2.7"/>
<line x1="82" y1="492.19" x2="90.3" y2="492.19" stroke="#000" stroke-width="2.7"/>
<line x1="82" y1="492.2" x2="1022.3" y2="492.2" stroke="#000" stroke-width="2.7"/>
<line x1="90" y1="492.2" x2="90" y2="500" stroke="#000" stroke-width="2.7"/>
<line x1="139.01" y1="492.2" x2="139.01" y2="500" stroke="#000" stroke-width="2.7"/>
<line x1="188.02" y1="492.2" x2="188.02" y2="500" stroke="#000" stroke-width="2.7"/>
<line x1="237.03" y1="492.2" x2="237.03" y2="500" stroke="#000" stroke-width="2.7"/>
<line x1="286.04" y1="492.2" x2="286.04" y2="500" stroke="#000" stroke-width="2.7"/>
<line x1="335.05" y1="492.2" x2="335.05" y2="500" stroke="#000" stroke-width="2.7"/>
<line x1="384.06" y1="492.2" x2="384.06" y2="500" stroke="#000" stroke-width="2.7"/>
<line x1="433.07" y1="492.2" x2="433.07" y2="500" stroke="#000" stroke-width="2.7"/>
<line x1="482.08" y1="492.2" x2="482.08" y2="500" stroke="#000" stroke-width="2.7"/>
<line x1="531.09" y1="492.2" x2="531.09" y2="500" stroke="#000" stroke-width="2.7"/>
<line x1="580.1" y1="492.2" x2="580.1" y2="500" stroke="#000" stroke-width="2.7"/>
<line x1="629.11" y1="492.2" x2="629.11" y2="500" stroke="#000" stroke-width="2.7"/>
<line x1="678.12" y1="492.2" x2="678.12" y2="500" stroke="#000" stroke-width="2.7"/>
<line x1="727.13" y1="492.2" x2="727.13" y2="500" stroke="#000" stroke-width="2.7"/>
<line x1="776.14" y1="492.2" x2="776.14" y2="500" stroke="#000" stroke-width="2.7"/>
<line x1="825.15" y1="492.2" x2="825.15" y2="500" stroke="#000" stroke-width="2.7"/>
<line x1="874.16" y1="492.2" x2="874.16" y2="500" stroke="#000" stroke-width="2.7"/>
<line x1="923.17" y1="492.2" x2="923.17" y2="500" stroke="#000" stroke-width="2.7"/>
<line x1="972.18" y1="492.2" x2="972.18" y2="500" stroke="#000" stroke-width="2.7"/>
<line x1="1021.19" y1="492.2" x2="1021.19" y2="500" stroke="#000" stroke-width="2.7"/>
<line x1="89.2" y1="548.8" x2="89.2" y2="1080" stroke="#000" stroke-width="2.7"/>
<line x1="81.5" y1="548.8" x2="89.2" y2="548.8" stroke="#000" stroke-width="2.7"/>
<line x1="81.5" y1="640.6" x2="89.2" y2="640.6" stroke="#000" stroke-width="2.7"/>
<line x1="81.5" y1="732.4" x2="89.2" y2="732.4" stroke="#000" stroke-width="2.7"/>
<line x1="81.5" y1="824.2" x2="89.2" y2="824.2" stroke="#000" stroke-width="2.7"/>
<line x1="81.5" y1="916" x2="89.2" y2="916" stroke="#000" stroke-width="2.7"/>
<line x1="81.5" y1="916" x2="1020.3" y2="916" stroke="#000" stroke-width="2.7"/>
<line x1="285.27" y1="916" x2="285.27" y2="1080" stroke="#000" stroke-width="2.7"/>
<line x1="480.94" y1="916" x2="480.94" y2="1080" stroke="#000" stroke-width="2.7"/>
<line x1="676.61" y1="916" x2="676.61" y2="1080" stroke="#000" stroke-width="2.7"/>
<line x1="872.28" y1="916" x2="872.28" y2="1080" stroke="#000" stroke-width="2.7"/>
<line x1="1019.3" y1="916" x2="1019.3" y2="1080" stroke="#000" stroke-width="2.7"/>
<line x1="1138.4" y1="37.4" x2="1138.4" y2="494.8" stroke="#000" stroke-width="2.7"/>
<line x1="1130.4" y1="37.4" x2="1138.4" y2="37.4" stroke="#000" stroke-width="2.7"/>
<line x1="1130.4" y1="151.4" x2="1138.4" y2="151.4" stroke="#000" stroke-width="2.7"/>
<line x1="1130.4" y1="265.4" x2="1138.4" y2="265.4" stroke="#000" stroke-width="2.7"/>
<line x1="1130.4" y1="379.4" x2="1138.4" y2="379.4" stroke="#000" stroke-width="2.7"/>
<line x1="1130.4" y1="493.4" x2="1138.4" y2="493.4" stroke="#000" stroke-width="2.7"/>
<line x1="1130.4" y1="493.5" x2="2006" y2="493.5" stroke="#000" stroke-width="2.7"/>
<line x1="1136.1" y1="541.7" x2="1136.1" y2="1080" stroke="#000" stroke-width="2.7"/>
<line x1="1129.3" y1="541.7" x2="1136.1" y2="541.7" stroke="#000" stroke-width="2.7"/>
<line x1="1129.3" y1="635.6" x2="1136.1" y2="635.6" stroke="#000" stroke-width="2.7"/>
<line x1="1129.3" y1="729.5" x2="1136.1" y2="729.5" stroke="#000" stroke-width="2.7"/>
<line x1="1129.3" y1="823.4" x2="1136.1" y2="823.4" stroke="#000" stroke-width="2.7"/>
<line x1="1129.3" y1="917.3" x2="1136.1" y2="917.3" stroke="#000" stroke-width="2.7"/>
<line x1="1129.3" y1="917.3" x2="2004.8" y2="917.3" stroke="#000" stroke-width="2.7"/>
<line x1="1318.75" y1="917.3" x2="1318.75" y2="1080" stroke="#000" stroke-width="2.7"/>
<line x1="1501.4" y1="917.3" x2="1501.4" y2="1080" stroke="#000" stroke-width="2.7"/>
<line x1="1684.05" y1="917.3" x2="1684.05" y2="1080" stroke="#000" stroke-width="2.7"/>
<line x1="1866.7" y1="917.3" x2="1866.7" y2="1080" stroke="#000" stroke-width="2.7"/>
<line x1="2003.6" y1="917.3" x2="2003.6" y2="1080" stroke="#000" stroke-width="2.7"/>
<line x1="1138" y1="0" x2="1138" y2="7.8" stroke="#000" stroke-width="3"/>
<line x1="1321.3" y1="0" x2="1321.3" y2="7.8" stroke="#000" stroke-width="3"/>
<line x1="1504" y1="0" x2="1504" y2="7.8" stroke="#000" stroke-width="3"/>
<line x1="1686.5" y1="0" x2="1686.5" y2="7.8" stroke="#000" stroke-width="3"/>
<line x1="1869.3" y1="0" x2="1869.3" y2="7.8" stroke="#000" stroke-width="3"/>
<line x1="2003" y1="0" x2="2003" y2="7.8" stroke="#000" stroke-width="3"/>
<text x="67.8" y="45.05" font-size="27" text-anchor="end">12</text>
<text x="67.8" y="158.91" font-size="27" text-anchor="end">9</text>
<text x="67.8" y="272.77" font-size="27" text-anchor="end">6</text>
<text x="67.8" y="386.63" font-size="27" text-anchor="end">3</text>
<text x="67.8" y="500.49" font-size="27" text-anchor="end">0</text>
<text x="66.6" y="557.3" font-size="27" text-anchor="end">800</text>
<text x="66.6" y="649.1" font-size="27" text-anchor="end">600</text>
<text x="66.6" y="740.9" font-size="27" text-anchor="end">400</text>
<text x="66.6" y="832.7" font-size="27" text-anchor="end">200</text>
<text x="66.6" y="924.5" font-size="27" text-anchor="end">0</text>
<text x="1116.2" y="46.2" font-size="27" text-anchor="end">600</text>
<text x="1116.2" y="160.2" font-size="27" text-anchor="end">450</text>
<text x="1116.2" y="274.2" font-size="27" text-anchor="end">300</text>
<text x="1116.2" y="388.2" font-size="27" text-anchor="end">150</text>
<text x="1116.2" y="502.2" font-size="27" text-anchor="end">0</text>
<text x="1116.8" y="549.7" font-size="24.6" text-anchor="end">600</text>
<text x="1116.8" y="643.6" font-size="24.6" text-anchor="end">450</text>
<text x="1116.8" y="737.5" font-size="24.6" text-anchor="end">300</text>
<text x="1116.8" y="831.4" font-size="24.6" text-anchor="end">150</text>
<text x="1116.8" y="925.3" font-size="24.6" text-anchor="end">0</text>
<text x="123" y="75.5" font-size="27" font-weight="bold">(a)</text>
<text x="125" y="583.8" font-size="27" font-weight="bold">(b)</text>
<text x="1171" y="77.3" font-size="27" font-weight="bold">(c)</text>
<text x="1169" y="581.4" font-size="26" font-weight="bold">(d)</text>
<rect x="473.4" y="46.6" width="13.2" height="13.2" fill="#fff" stroke="#000" stroke-width="2.8"/>
<text x="492.2" y="61.9" font-size="27">0 DAS</text>
<rect x="578.8" y="46.6" width="13.2" height="13.2" fill="#808080" stroke="#000" stroke-width="2.8"/>
<text x="604.2" y="61.9" font-size="27">10 DAS</text>
<rect x="704.8" y="46.6" width="13.2" height="13.2" fill="url(#dh)" stroke="#000" stroke-width="2.8"/>
<text x="728.6" y="61.9" font-size="27">20 DAS</text>
<rect x="829.5" y="46.6" width="13.2" height="13.2" fill="url(#vs)" stroke="#000" stroke-width="2.8"/>
<text x="847" y="61.9" font-size="27">30 DAS</text>
<text transform="translate(123.67,932) rotate(-90)" font-size="27" text-anchor="end">Control</text>
<text transform="translate(172.59,932) rotate(-90)" font-size="27" text-anchor="end">Formalin</text>
<text transform="translate(221.53,932) rotate(-90)" font-size="27" text-anchor="end">Steaming</text>
<text transform="translate(319.38,932) rotate(-90)" font-size="27" text-anchor="end">Control</text>
<text transform="translate(368.31,932) rotate(-90)" font-size="27" text-anchor="end">Formalin</text>
<text transform="translate(417.25,932) rotate(-90)" font-size="27" text-anchor="end">Steaming</text>
<text transform="translate(515.11,932) rotate(-90)" font-size="27" text-anchor="end">Control</text>
<text transform="translate(564.03,932) rotate(-90)" font-size="27" text-anchor="end">Formalin</text>
<text transform="translate(612.97,932) rotate(-90)" font-size="27" text-anchor="end">Steaming</text>
<text transform="translate(710.83,932) rotate(-90)" font-size="27" text-anchor="end">Control</text>
<text transform="translate(759.75,932) rotate(-90)" font-size="27" text-anchor="end">Formalin</text>
<text transform="translate(808.69,932) rotate(-90)" font-size="27" text-anchor="end">Steaming</text>
<text transform="translate(906.55,932) rotate(-90)" font-size="27" text-anchor="end">Control</text>
<text transform="translate(955.48,932) rotate(-90)" font-size="27" text-anchor="end">Formalin</text>
<text transform="translate(1004.41,932) rotate(-90)" font-size="27" text-anchor="end">Steaming</text>
<text transform="translate(1168.93,933.6) rotate(-90)" font-size="27" text-anchor="end">Control</text>
<text transform="translate(1214.59,933.6) rotate(-90)" font-size="27" text-anchor="end">Formalin</text>
<text transform="translate(1260.25,933.6) rotate(-90)" font-size="27" text-anchor="end">Steaming</text>
<text transform="translate(1351.57,933.6) rotate(-90)" font-size="27" text-anchor="end">Control</text>
<text transform="translate(1397.23,933.6) rotate(-90)" font-size="27" text-anchor="end">Formalin</text>
<text transform="translate(1442.89,933.6) rotate(-90)" font-size="27" text-anchor="end">Steaming</text>
<text transform="translate(1534.21,933.6) rotate(-90)" font-size="27" text-anchor="end">Control</text>
<text transform="translate(1579.87,933.6) rotate(-90)" font-size="27" text-anchor="end">Formalin</text>
<text transform="translate(1625.53,933.6) rotate(-90)" font-size="27" text-anchor="end">Steaming</text>
<text transform="translate(1716.85,933.6) rotate(-90)" font-size="27" text-anchor="end">Control</text>
<text transform="translate(1762.51,933.6) rotate(-90)" font-size="27" text-anchor="end">Formalin</text>
<text transform="translate(1808.17,933.6) rotate(-90)" font-size="27" text-anchor="end">Steaming</text>
<text transform="translate(1899.49,933.6) rotate(-90)" font-size="27" text-anchor="end">Control</text>
<text transform="translate(1945.15,933.6) rotate(-90)" font-size="27" text-anchor="end">Formalin</text>
<text transform="translate(1990.81,933.6) rotate(-90)" font-size="27" text-anchor="end">Steaming</text>
<text x="187.44" y="1073.3" font-size="27" text-anchor="middle">Peat</text>
<text x="383.1" y="1073.3" font-size="27" text-anchor="middle">Guar</text>
<text x="578.77" y="1073.3" font-size="27" text-anchor="middle">Jantar</text>
<text x="774.44" y="1073.3" font-size="27" text-anchor="middle" textLength="135.5" lengthAdjust="spacingAndGlyphs">Wheat Straw</text>
<text x="945.79" y="1073.3" font-size="27" text-anchor="middle" textLength="102.5" lengthAdjust="spacingAndGlyphs">Rice Hull</text>
<text x="1227.42" y="1073.3" font-size="27" text-anchor="middle">Peat</text>
<text x="1410.07" y="1073.3" font-size="27" text-anchor="middle">Guar</text>
<text x="1592.72" y="1073.3" font-size="27" text-anchor="middle">Jantar</text>
<text x="1775.38" y="1073.3" font-size="27" text-anchor="middle" textLength="135.5" lengthAdjust="spacingAndGlyphs">Wheat Straw</text>
<text x="1935.15" y="1073.3" font-size="27" text-anchor="middle" textLength="102.5" lengthAdjust="spacingAndGlyphs">Rice Hull</text>
<text transform="translate(35,258.4) rotate(-90)" font-size="27" text-anchor="middle" textLength="371.6" lengthAdjust="spacingAndGlyphs">Bacterial CFU×10<tspan font-size="17" baseline-shift="super">7</tspan> kg<tspan font-size="17" baseline-shift="super">-1</tspan> media DW</text>
<text transform="translate(22.5,734.9) rotate(-90)" font-size="27" text-anchor="middle" textLength="331.3" lengthAdjust="spacingAndGlyphs">NO<tspan font-size="17" baseline-shift="sub">3</tspan><tspan font-size="17" baseline-shift="super">-</tspan>-N  kg<tspan font-size="17" baseline-shift="super">-1</tspan> DW of the media)</text>
<text transform="translate(1073.6,293.5) rotate(-90)" font-size="27" text-anchor="middle" textLength="325.4" lengthAdjust="spacingAndGlyphs">NH<tspan font-size="17" baseline-shift="sub">4</tspan><tspan font-size="17" baseline-shift="super">+</tspan>-N  kg<tspan font-size="17" baseline-shift="super">-1</tspan> DW of the media</text>
<text transform="translate(1067.5,757.5) rotate(-90)" font-size="27" text-anchor="middle" textLength="418.3" lengthAdjust="spacingAndGlyphs">NO<tspan font-size="17" baseline-shift="sub">3</tspan><tspan font-size="17" baseline-shift="super">-</tspan>-N+NH<tspan font-size="17" baseline-shift="sub">4</tspan><tspan font-size="17" baseline-shift="super">+</tspan>-N kg<tspan font-size="17" baseline-shift="super">-1</tspan> DW of the media</text>
</svg>
</body></html>
